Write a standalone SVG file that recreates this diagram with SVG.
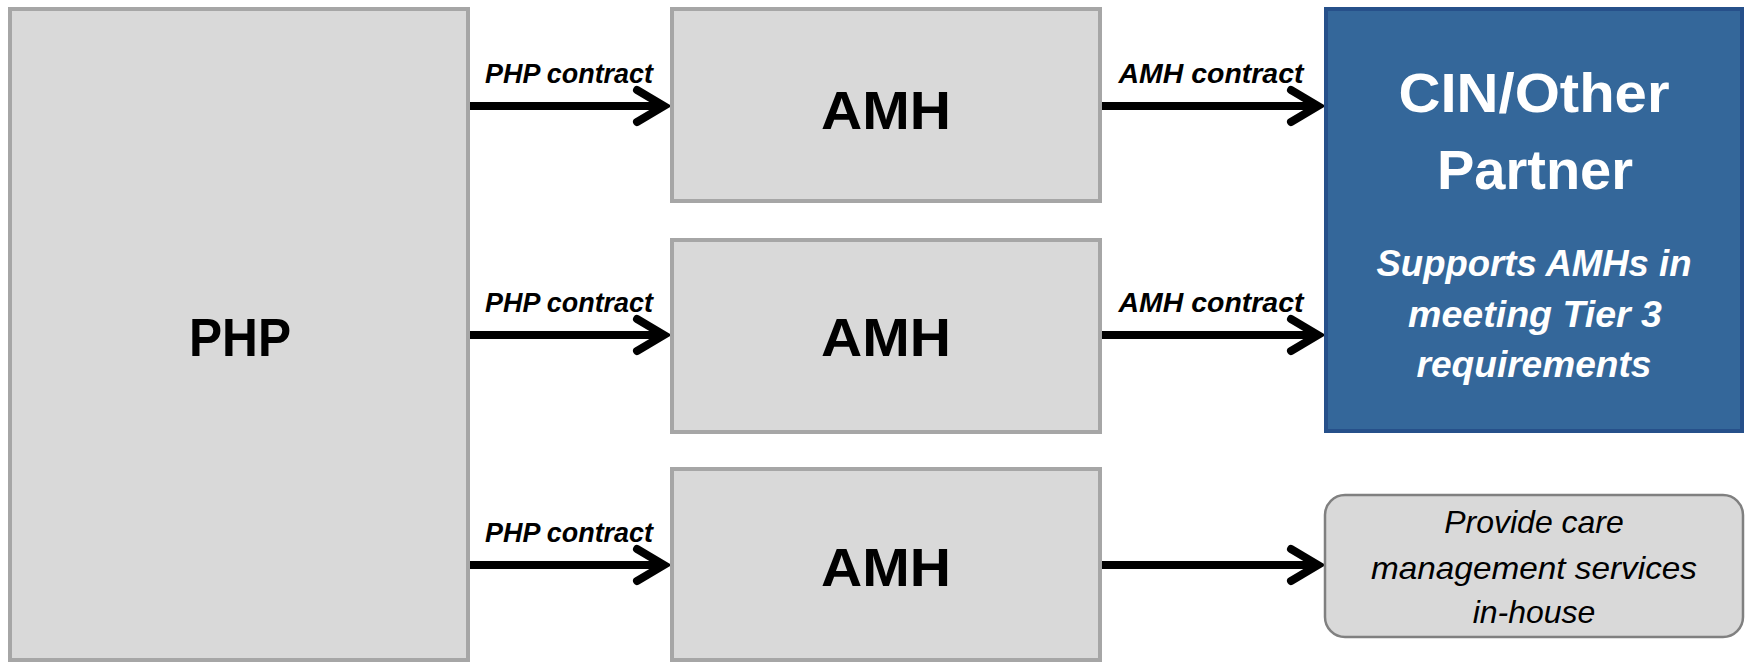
<svg xmlns="http://www.w3.org/2000/svg" width="1748" height="662" viewBox="0 0 1748 662">
  <style>
    .box { fill: #d9d9d9; stroke: #a6a6a6; stroke-width: 4; }
    .blue { fill: #34679a; stroke: #26508a; stroke-width: 4; }
    .round { fill: #d9d9d9; stroke: #808080; stroke-width: 2.5; }
    .big { font-family: "Liberation Sans", Arial, sans-serif; font-weight: bold; font-size: 54px; fill: #000; text-anchor: middle; }
    .lbl { font-family: "Liberation Sans", Arial, sans-serif; font-weight: bold; font-style: italic; font-size: 27px; fill: #000; text-anchor: middle; }
    .cin { font-family: "Liberation Sans", Arial, sans-serif; font-weight: bold; font-size: 56px; fill: #fff; text-anchor: middle; }
    .sup { font-family: "Liberation Sans", Arial, sans-serif; font-weight: bold; font-style: italic; font-size: 36px; fill: #fff; text-anchor: middle; }
    .prov { font-family: "Liberation Sans", Arial, sans-serif; font-style: italic; font-size: 32px; fill: #000; text-anchor: middle; }
    .conn { stroke: #000; stroke-width: 8; fill: none; }
  </style>
  <defs>
    <marker id="chev" markerUnits="userSpaceOnUse" viewBox="-40 -25 50 50" refX="0" refY="0" markerWidth="50" markerHeight="50" orient="auto">
      <path d="M-27,-16 L0,0 L-27,16" fill="none" stroke="#000" stroke-width="8" stroke-linecap="round" stroke-linejoin="miter"/>
    </marker>
  </defs>

  <g id="connectors">
    <path class="conn" d="M469,106 H664" marker-end="url(#chev)"/>
    <path class="conn" d="M469,335 H664" marker-end="url(#chev)"/>
    <path class="conn" d="M469,565 H664" marker-end="url(#chev)"/>
    <path class="conn" d="M1102,106 H1318" marker-end="url(#chev)"/>
    <path class="conn" d="M1102,335 H1318" marker-end="url(#chev)"/>
    <path class="conn" d="M1102,565 H1318" marker-end="url(#chev)"/>
    <text class="lbl" x="569" y="83" textLength="168" lengthAdjust="spacingAndGlyphs">PHP contract</text>
    <text class="lbl" x="569" y="312" textLength="168" lengthAdjust="spacingAndGlyphs">PHP contract</text>
    <text class="lbl" x="569" y="542" textLength="168" lengthAdjust="spacingAndGlyphs">PHP contract</text>
    <text class="lbl" x="1211" y="83" textLength="185" lengthAdjust="spacingAndGlyphs">AMH contract</text>
    <text class="lbl" x="1211" y="312" textLength="185" lengthAdjust="spacingAndGlyphs">AMH contract</text>
  </g>

  <g id="php">
    <rect class="box" x="10" y="9" width="458" height="651"/>
    <text class="big" x="240" y="356" textLength="102" lengthAdjust="spacingAndGlyphs">PHP</text>
  </g>

  <g id="amh1">
    <rect class="box" x="672" y="9" width="428" height="192"/>
    <text class="big" x="886" y="129" textLength="130" lengthAdjust="spacingAndGlyphs">AMH</text>
  </g>
  <g id="amh2">
    <rect class="box" x="672" y="240" width="428" height="192"/>
    <text class="big" x="886" y="356" textLength="130" lengthAdjust="spacingAndGlyphs">AMH</text>
  </g>
  <g id="amh3">
    <rect class="box" x="672" y="469" width="428" height="191"/>
    <text class="big" x="886" y="586" textLength="130" lengthAdjust="spacingAndGlyphs">AMH</text>
  </g>

  <g id="cin">
    <rect class="blue" x="1326" y="9" width="416" height="422"/>
    <text class="cin" x="1534" y="112" textLength="271" lengthAdjust="spacingAndGlyphs">CIN/Other</text>
    <text class="cin" x="1535" y="189">Partner</text>
    <text class="sup" x="1534" y="276" textLength="315" lengthAdjust="spacingAndGlyphs">Supports AMHs in</text>
    <text class="sup" x="1535" y="327" textLength="254" lengthAdjust="spacingAndGlyphs">meeting Tier 3</text>
    <text class="sup" x="1534" y="377" textLength="235" lengthAdjust="spacingAndGlyphs">requirements</text>
  </g>

  <g id="inhouse">
    <rect class="round" x="1325" y="495" width="418" height="142" rx="20" ry="20"/>
    <text class="prov" x="1534" y="533">Provide care</text>
    <text class="prov" x="1534" y="579" textLength="326" lengthAdjust="spacingAndGlyphs">management services</text>
    <text class="prov" x="1534" y="623">in-house</text>
  </g>
</svg>
